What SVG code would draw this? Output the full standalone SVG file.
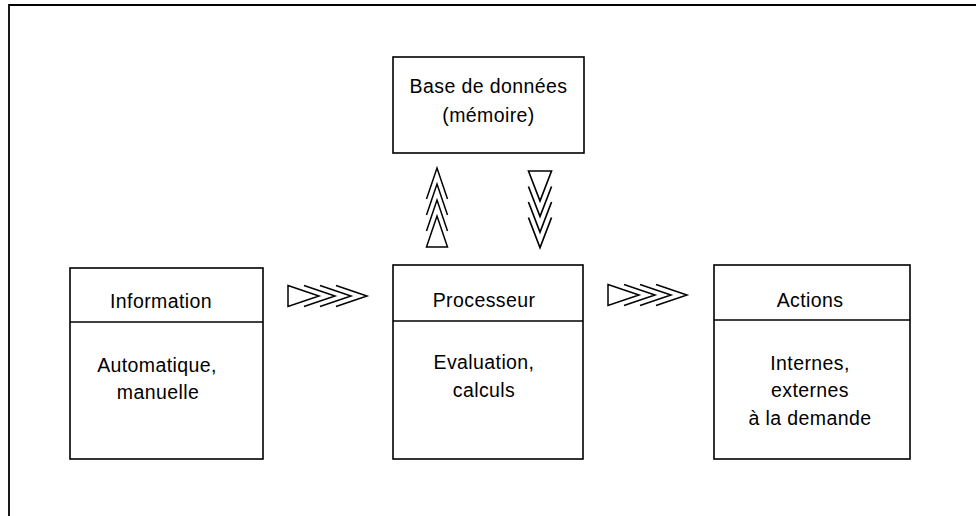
<svg xmlns="http://www.w3.org/2000/svg" width="976" height="516" viewBox="0 0 976 516">
<style>
.box{fill:#fff;stroke:#000;stroke-width:1.6}
.div{stroke:#000;stroke-width:1.6}
.frame{fill:none;stroke:#000;stroke-width:1.8}
text{font-family:"Liberation Sans",Arial,Helvetica,sans-serif;font-size:19.5px;fill:#000;text-anchor:middle;letter-spacing:0.4px}
.arr{fill:none;stroke:#000;stroke-width:1.5;stroke-linejoin:miter}
</style>
<defs>
<g id="chev">
<path class="arr" d="M0,-10.5 L31,0 L0,10.5 Z M16,-10.5 L47,0 L16,10.5 M32,-10.5 L63,0 L32,10.5 M48,-10.5 L79,0 L48,10.5"/>
</g>
</defs>
<rect width="976" height="516" fill="#fff"/>
<g id="frame">
<path class="frame" d="M9,516 L9,5 L976,5"/>
</g>
<g id="base">
<rect class="box" x="393" y="57" width="191" height="96"/>
<text x="488.5" y="93">Base de données</text>
<text x="488.5" y="122">(mémoire)</text>
</g>
<g id="information">
<rect class="box" x="70" y="268" width="193" height="191"/>
<line class="div" x1="70" y1="322" x2="263" y2="322"/>
<text x="161" y="308">Information</text>
<text x="157" y="372">Automatique,</text>
<text x="158" y="399">manuelle</text>
</g>
<g id="processeur">
<rect class="box" x="393" y="265" width="190" height="194"/>
<line class="div" x1="393" y1="321" x2="583" y2="321"/>
<text x="484" y="307">Processeur</text>
<text x="484" y="369">Evaluation,</text>
<text x="484" y="397">calculs</text>
</g>
<g id="actions">
<rect class="box" x="714" y="265" width="196" height="194"/>
<line class="div" x1="714" y1="320" x2="910" y2="320"/>
<text x="810" y="307">Actions</text>
<text x="810" y="370">Internes,</text>
<text x="810" y="397">externes</text>
<text x="810" y="425">à la demande</text>
</g>
<g id="connectors">
<use href="#chev" transform="translate(288,296)"/>
<use href="#chev" transform="translate(608,295)"/>
<use href="#chev" transform="translate(437,247) rotate(-90)"/>
<use href="#chev" transform="translate(540,171) rotate(90) scale(0.97,1.1)"/>
</g>
</svg>
